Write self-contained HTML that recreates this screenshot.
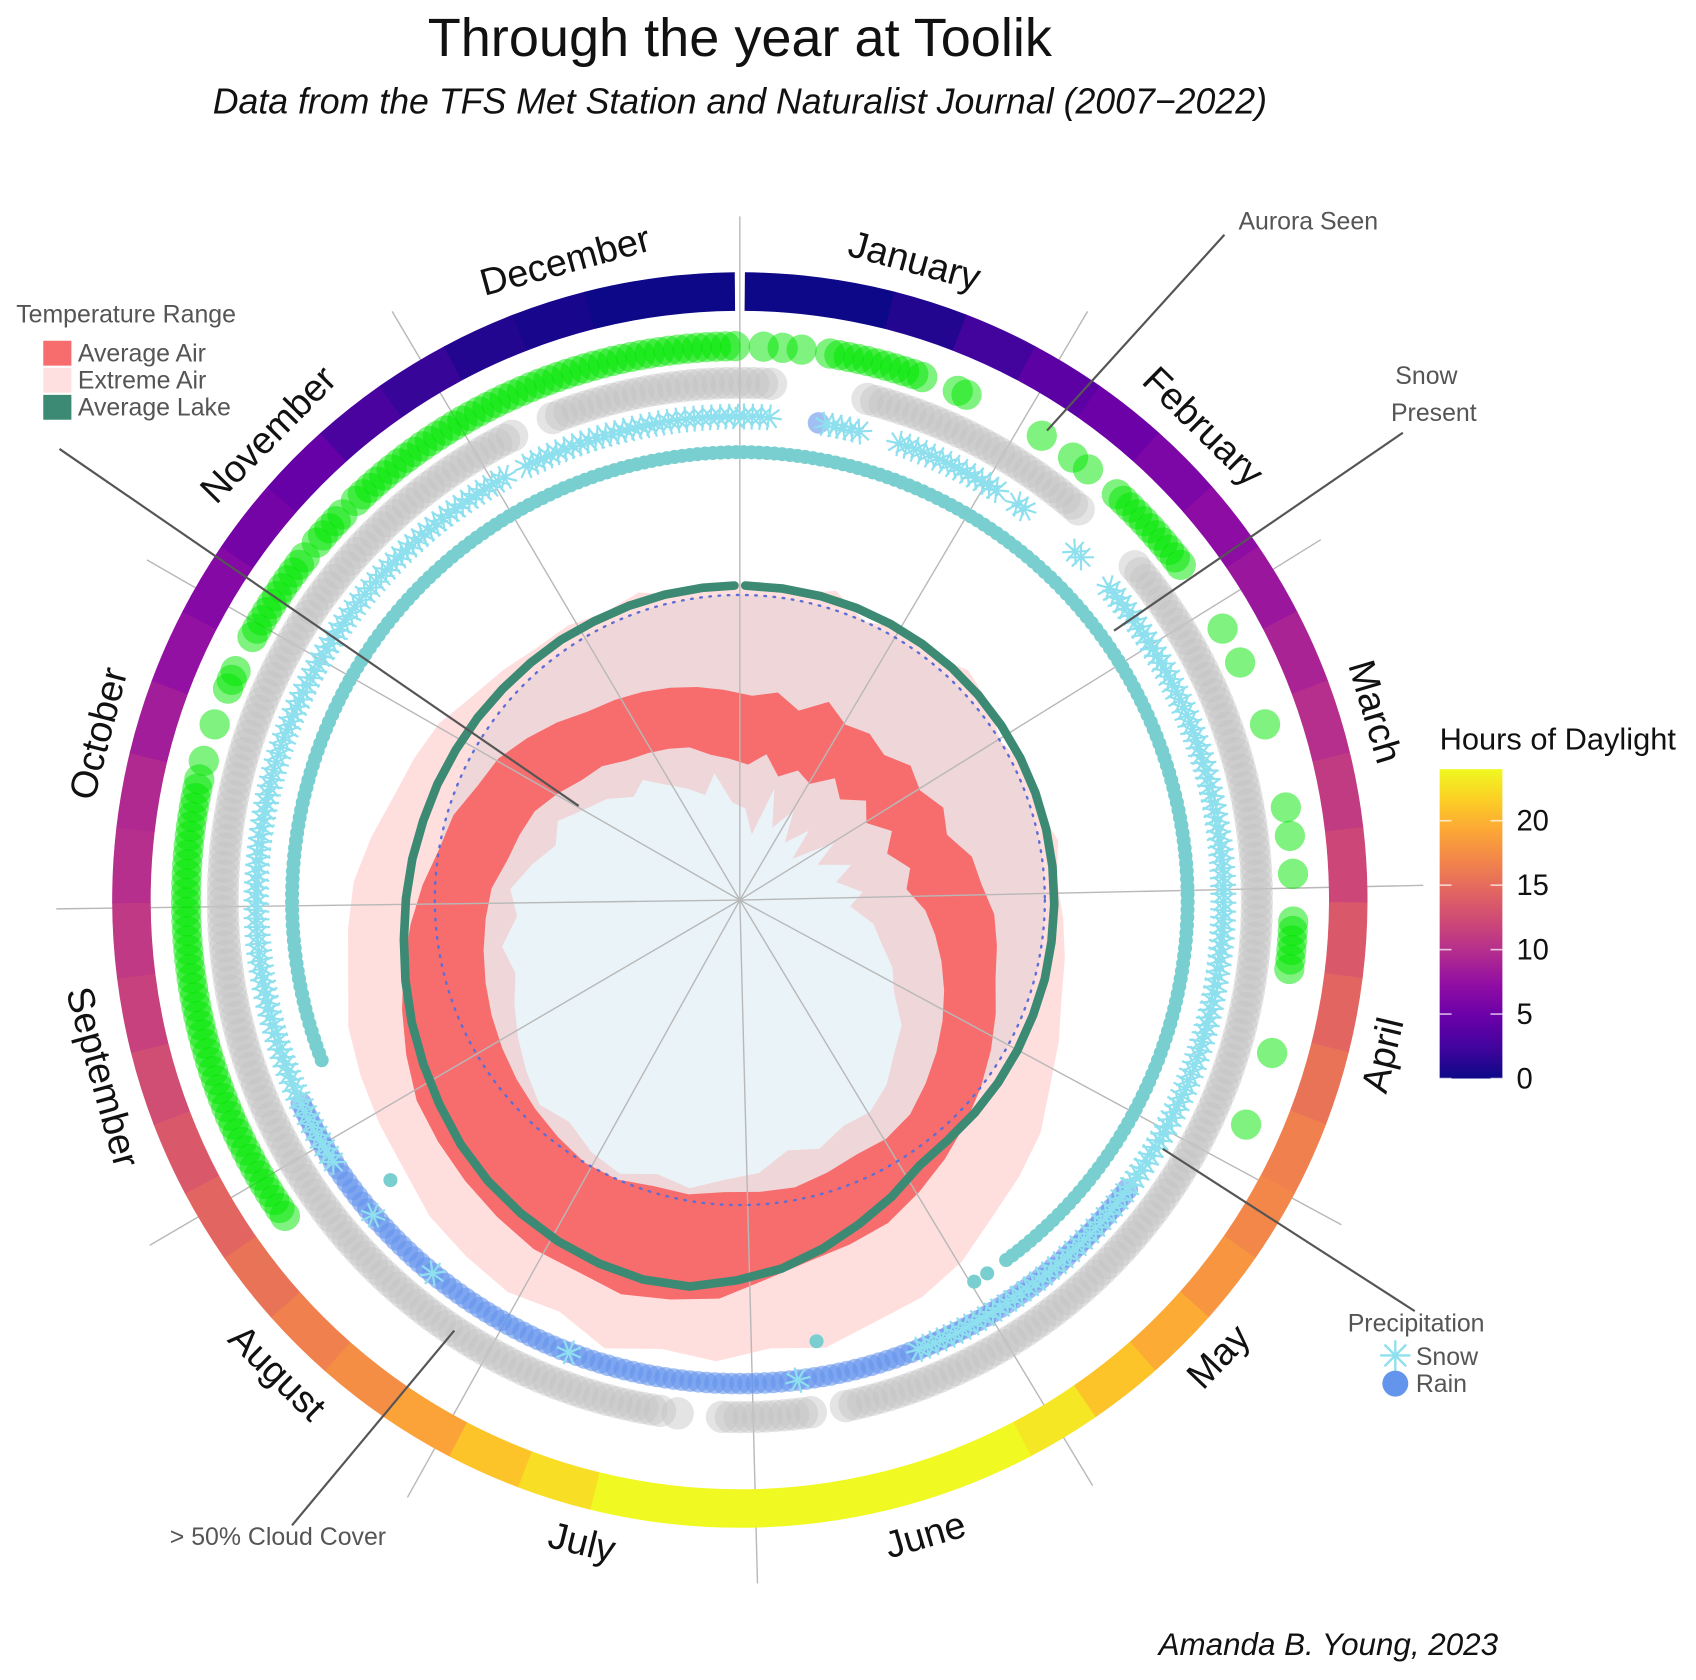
<!DOCTYPE html>
<html><head><meta charset="utf-8"><title>Through the year at Toolik</title>
<style>
html,body{margin:0;padding:0;background:#fff;}
svg{display:block;}
text{font-family:"Liberation Sans",Arial,sans-serif;}
</style></head>
<body>
<svg id="chart" xmlns="http://www.w3.org/2000/svg" width="1696" height="1680" viewBox="0 0 1568 1553" preserveAspectRatio="none">
<rect x="0" y="0" width="1568" height="1553" fill="#fff"/>
<text x="684" y="52" font-size="50" text-anchor="middle" fill="#111">Through the year at Toolik</text>
<text x="684" y="105" font-size="33" font-style="italic" text-anchor="middle" fill="#111">Data from the TFS Met Station and Naturalist Journal (2007−2022)</text>
<text x="1385" y="1530" font-size="29" font-style="italic" text-anchor="end" fill="#111">Amanda B. Young, 2023</text>
<g id="plot"></g>
<g id="legends">
  <text x="15" y="298" font-size="23" fill="#555">Temperature Range</text>
  <rect x="40" y="315" width="26" height="23" fill="#f76d6d"/>
  <rect x="40" y="340" width="26" height="23" fill="#ffe0e0"/>
  <rect x="40" y="365" width="26" height="23" fill="#3c8a73"/>
  <text x="72" y="334" font-size="23" fill="#555">Average Air</text>
  <text x="72" y="359" font-size="23" fill="#555">Extreme Air</text>
  <text x="72" y="384" font-size="23" fill="#555">Average Lake</text>
  <line x1="55" y1="415" x2="535" y2="745" stroke="#555" stroke-width="2"/>
  <text x="1145" y="212" font-size="23" fill="#555">Aurora Seen</text>
  <line x1="1132" y1="217" x2="968" y2="398" stroke="#555" stroke-width="2"/>
  <text x="1290" y="355" font-size="23" fill="#555">Snow</text>
  <text x="1286" y="389" font-size="23" fill="#555">Present</text>
  <line x1="1297" y1="400" x2="1030" y2="583" stroke="#555" stroke-width="2"/>
  <text x="1246" y="1231" font-size="23" fill="#555">Precipitation</text>
  <g stroke="#8ee0ee" stroke-width="2.2">
    <line x1="1276" y1="1253" x2="1304" y2="1253"/><line x1="1290" y1="1239" x2="1290" y2="1267"/>
    <line x1="1280" y1="1243" x2="1300" y2="1263"/><line x1="1280" y1="1263" x2="1300" y2="1243"/>
  </g>
  <text x="1309" y="1262" font-size="23" fill="#555">Snow</text>
  <circle cx="1290" cy="1279" r="12" fill="#6495ed"/>
  <text x="1309" y="1287" font-size="23" fill="#555">Rain</text>
  <line x1="1308" y1="1212" x2="1075" y2="1062" stroke="#555" stroke-width="2"/>
  <text x="157" y="1428" font-size="23" fill="#555">&gt; 50% Cloud Cover</text>
  <line x1="270" y1="1410" x2="420" y2="1230" stroke="#555" stroke-width="2"/>
  <text x="1331" y="693" font-size="28.5" fill="#111">Hours of Daylight</text>
  <g id="colorbar"></g>
</g>
</svg>
<script>
// ---------- data ----------
const months = ["January","February","March","April","May","June","July","August","September","October","November","December"];
const monthStartDoy = [0,31,59,90,120,151,181,212,243,273,304,334];
const monthDays = [31,28,31,30,31,30,31,31,30,31,30,31];
// weekly values (week i starts at day 7*i)
const daylightHours = [0,0,1,2.5,4,5,6,7,8,9,10,11,12,13.5,14.5,15.5,16.5,17,18,19.5,21,23,24,24,24,24,24,24,22.5,21,19,17.5,16.5,15.5,14.5,13.5,12.5,11.5,10.8,10,9.5,8.5,7.5,6.5,5.5,4.5,3,2,1,0.5,0,0];
const avgAirMin = [-27,-25,-28,-26,-27,-24,-26,-23,-25,-22,-24,-21,-22,-19,-17,-15,-13,-11,-9,-7,-5,-4,-4,-3,-2,-2,-2,-1,-1,0,0,-1,-2,-3,-4,-5,-6,-7,-8,-9,-11,-12,-13,-15,-17,-18,-20,-21,-22,-23,-25,-26];
const avgAirMax = [-16,-15,-17,-14,-16,-15,-16,-14,-15,-13,-14,-11,-10,-8,-7,-6,-4,-2,0,2,4,6,8,9,10,12,15,16,17,16,16,15,14,13,12,10,8,6,4,2,0,-1,-3,-4,-6,-8,-10,-11,-12,-13,-14,-15];
const extAirMin = [-34,-38,-30,-36,-32,-37,-33,-38,-31,-35,-30,-33,-29,-31,-27,-25,-22,-20,-16,-14,-11,-9,-9,-7,-8,-5,-4,-2,-3,-1,-2,-4,-3,-5,-7,-9,-11,-10,-13,-12,-15,-18,-17,-20,-22,-25,-24,-27,-29,-31,-28,-33];
const extAirMax = [2,1,3,0,2,1,3,2,0,2,1,3,2,3,4,5,7,9,12,14,16,19,21,22,24,23,25,24,26,23,24,23,22,20,19,18,17,15,14,13,11,9,8,7,5,4,3,3,2,3,1,2];
const lakeTemp = [1.5,1.5,1.5,1.5,1.5,1.5,1.5,1.5,1.5,1.5,1.5,1.5,1.5,1.5,1.5,1.6,1.6,1.7,1.8,1.9,2.0,2.5,4.5,6.4,8.5,10.5,12,13.5,13.8,13.5,13,12.3,11.5,10.5,9.3,8.2,7.2,6.2,5.3,4.6,4,3.4,3,2.6,2.3,2.0,1.8,1.7,1.5,1.5,1.5,1.5];
// day-of-year ranges [start, end]
const snowPresentRanges = [[0,145],[148,148],[150,150],[172,172],[234,234],[252,364]];
const cloudRanges = [[0,3],[14,41],[50,170],[174,184],[189,189],[191,338],[343,364]];
const auroraRanges = [[2,2],[4,4],[6,6],[9,19],[23,24],[33,33],[37,37],[39,39],[43,53],[61,61],[65,65],[72,72],[81,81],[84,84],[88,88],[93,98],[107,107],[115,115],[238,286],[288,288],[292,292],[296,298],[302,312],[314,318],[320,364]];
const rainRanges = [[9,9],[128,248]];
const snowfallRanges = [[0,3],[10,14],[19,32],[35,36],[44,45],[50,160],[175,175],[203,203],[222,222],[232,232],[240,335],[338,364]];
const colorbarTicks = [0,5,10,15,20];

// ---------- scales ----------
const NS="http://www.w3.org/2000/svg";
const cx=684, cy=832;
const plot=document.getElementById('plot');
function ang(d){return d/365*2*Math.PI;}
function pt(r,d){const a=ang(d);return [cx+r*Math.sin(a), cy-r*Math.cos(a)];}
function rTemp(t){return 282+5.8*t;}
function weekDoy(i){return i*7+3.5;}
const plasma=[[13,8,135],[65,4,157],[106,0,168],[143,13,164],[177,42,144],[204,71,120],[225,100,98],[242,132,75],[252,166,54],[252,206,37],[240,249,33]];
function plasmaColor(h){let t=Math.max(0,Math.min(1,h/24))*10;const i=Math.min(9,Math.floor(t));const f=t-i;const a=plasma[i],b=plasma[i+1];
  return 'rgb('+a.map((v,k)=>Math.round(v+(b[k]-v)*f)).join(',')+')';}
function mk(tag,attrs,parent){const e=document.createElementNS(NS,tag);for(const k in attrs)e.setAttribute(k,attrs[k]);(parent||plot).appendChild(e);return e;}
function days(ranges){const out=[];ranges.forEach(r=>{for(let d=r[0];d<=r[1];d++)out.push(d);});return out;}
function ringPath(vals){return vals.map((v,i)=>{const p=pt(rTemp(v),weekDoy(i));return (i?'L':'M')+p[0].toFixed(1)+','+p[1].toFixed(1);}).join('')+'Z';}
function arcSeg(r1,r2,d0,d1){const a=pt(r2,d0),b=pt(r2,d1),c=pt(r1,d1),e=pt(r1,d0);
  return 'M'+a+' A'+r2+','+r2+' 0 0 1 '+b+' L'+c+' A'+r1+','+r1+' 0 0 0 '+e+'Z';}

// ---------- freezing disk ----------
let e;
e=mk('circle',{cx:cx,cy:cy,r:rTemp(0),fill:'#eaf4f8'});



e=mk('path',{d:ringPath(extAirMax)+ringPath(extAirMin),fill:'rgb(255,124,124)','fill-opacity':0.25,'fill-rule':'evenodd'});


e=mk('path',{d:ringPath(avgAirMax)+ringPath(avgAirMin),fill:'#f76d6d','fill-rule':'evenodd'});



monthStartDoy.forEach((d,i)=>{const p=pt(632,d);
  const l=mk('line',{x1:cx,y1:cy,x2:p[0],y2:p[1],stroke:'#b8b8b8','stroke-width':1.3});
  
  });

e=mk('circle',{cx:cx,cy:cy,r:rTemp(0),fill:'none',stroke:'#5b6fd6','stroke-width':2.2,'stroke-dasharray':'1.5 7','stroke-linecap':'round'});



const lakeD=lakeTemp.map((v,i)=>{const p=pt(rTemp(v),i*7+1);return (i?'L':'M')+p[0].toFixed(1)+','+p[1].toFixed(1);}).join('')+(()=>{const p=pt(rTemp(lakeTemp[51]),364);return 'L'+p[0].toFixed(1)+','+p[1].toFixed(1);})();
e=mk('path',{d:lakeD,fill:'none',stroke:'#3c8a73','stroke-width':8,'stroke-linejoin':'round','stroke-linecap':'round'});



days(snowPresentRanges).forEach(d=>{const p=pt(414,d+0.5);
  const c=mk('circle',{cx:p[0],cy:p[1],r:6.5,fill:'#79cfcf'});
  
  });

days(rainRanges).forEach(d=>{const p=pt(447,d+0.5);
  const c=mk('circle',{cx:p[0],cy:p[1],r:10,fill:'#6495ed','fill-opacity':0.6});
  
  });
days(snowfallRanges).forEach(d=>{const p=pt(447,d+0.5);
  const g=mk('g',{stroke:'#8ee0ee','stroke-width':2,transform:'translate('+p[0].toFixed(1)+','+p[1].toFixed(1)+') rotate('+(d*3)+')'});
  
  
  [0,45,90,135].forEach(a=>{const r=a*Math.PI/180;mk('line',{x1:-12*Math.cos(r),y1:-12*Math.sin(r),x2:12*Math.cos(r),y2:12*Math.sin(r)},g);});});

days(cloudRanges).forEach(d=>{const p=pt(478,d+0.5);
  const c=mk('circle',{cx:p[0],cy:p[1],r:15,fill:'#c4c4c4','fill-opacity':0.45});
  
  });

days(auroraRanges).forEach(d=>{const p=pt(512,d+0.5);
  const c=mk('circle',{cx:p[0],cy:p[1],r:14,fill:'#00e600','fill-opacity':0.5});
  
  });

daylightHours.forEach((h,i)=>{const d0=i*7+0.5,d1=Math.min(i*7+7.5,364.5);
  const s=mk('path',{d:arcSeg(545,580,d0,d1),fill:plasmaColor(h),stroke:plasmaColor(h),'stroke-width':0.6});
  
  });

months.forEach((m,i)=>{const d=monthStartDoy[i]+monthDays[i]/2;const deg=d/365*360;const p=pt(612,d);
  const rot=(deg>90&&deg<270)?deg-180:(deg>=270?deg-360:deg);
  const t=mk('text',{x:p[0],y:p[1],'font-size':35,'text-anchor':'middle','dominant-baseline':'central',fill:'#111',transform:'rotate('+rot.toFixed(1)+' '+p[0].toFixed(1)+' '+p[1].toFixed(1)+')'});
  t.textContent=m;
  
  });

const cb=document.getElementById('colorbar');
const cbTop=711,cbBot=997,cbX=1331,cbW=58;
function cbY(h){return cbBot-(cbBot-cbTop)*h/24;}
const defs=mk('defs',{},cb);
const grad=mk('linearGradient',{id:'plasmaGrad',x1:0,y1:1,x2:0,y2:0},defs);
plasma.forEach((c,i)=>mk('stop',{offset:(i/10),'stop-color':'rgb('+c.join(',')+')'},grad));
e=mk('rect',{x:cbX,y:cbTop,width:cbW,height:cbBot-cbTop,fill:'url(#plasmaGrad)'},cb);


colorbarTicks.forEach(v=>{const y=cbY(v);
  mk('line',{x1:cbX,y1:y,x2:cbX+11,y2:y,stroke:'#fff','stroke-opacity':0.7,'stroke-width':1.5},cb);
  mk('line',{x1:cbX+cbW-11,y1:y,x2:cbX+cbW,y2:y,stroke:'#fff','stroke-opacity':0.7,'stroke-width':1.5},cb);
  const t=mk('text',{x:1402,y:y+9,'font-size':27,fill:'#111'},cb);
  t.textContent=v;
  
  });
</script>
</body></html>
